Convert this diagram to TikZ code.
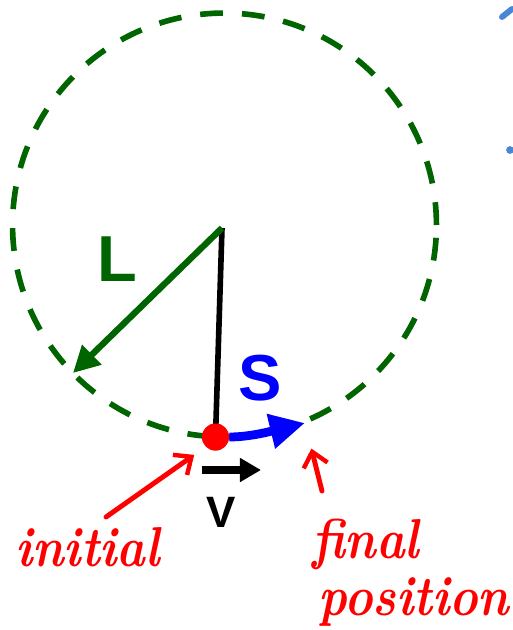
\documentclass[tikz,border=0pt]{standalone}
\usepackage{fontspec}
\setsansfont{Liberation Sans}
\usetikzlibrary{arrows.meta}
\definecolor{leaf}{HTML}{006400}
\definecolor{ink}{HTML}{0000FF}
\definecolor{pen}{HTML}{FF0000}
\definecolor{sky}{HTML}{4A86D6}
\tikzset{
  biglabel/.style={font=\sffamily\bfseries\fontsize{37}{37}\selectfont,inner sep=0pt},
  scrawl/.style={pen,font=\bfseries\itshape\fontsize{32}{32}\selectfont,inner sep=0pt,xscale=0.86,transform shape},
  scrawlarrow/.style={pen,line width=2.8pt,line cap=round,-{Straight Barb[length=8pt,width=14pt,line width=2.5pt]}}
}
\begin{document}
\begin{tikzpicture}[x=0.02cm,y=-0.02cm]
\useasboundingbox (0,0) rectangle (512,630);
% orbit of the pendulum bob
\draw[leaf,line width=3.2pt,dash pattern=on 13pt off 10.8pt] (224.5,225) circle (4.24cm);
\coordinate (pivot) at (222,228);
\coordinate (Lend) at (73,373);
\coordinate (Send) at (305,423);
\coordinate (vstart) at (202,470);
\coordinate (vend) at (261,470);
\node[circle,fill=pen,minimum size=0.54cm,inner sep=0pt] (bob) at (215.5,437) {};
% string and swing
\draw[line width=3.2pt] (pivot) -- (bob.center);
\draw[leaf,line width=3.6pt,-{Triangle[length=15pt,width=15pt]}] (pivot) -- (Lend);
\draw[ink,line width=5pt,-{Triangle[length=20pt,width=19pt]}] (bob.east) .. controls (250,437) and (272,431) .. (Send);
\node[circle,fill=pen,minimum size=0.54cm,inner sep=0pt] at (bob) {};
\draw[line width=4.2pt,-{Triangle[length=12pt,width=13pt]}] (vstart) -- (vend);
% labels
\node[biglabel,leaf] (Llabel) at (117,259) {L};
\node[biglabel,ink] (Slabel) at (260,378) {S};
\node[font=\sffamily\bfseries\fontsize{25}{25}\selectfont,inner sep=0pt] (Vlabel) at (221,512) {V};
% red notes
\node[scrawl,anchor=base west] (initial) at (15,566) {initial};
\node[scrawl,anchor=base west] (final) at (312,558) {final};
\node[scrawl,anchor=base west] (position) at (318,615) {position};
\coordinate (itail) at (106,517);
\coordinate (ftail) at (322,491);
\draw[scrawlarrow,shorten >=8pt] (itail) -- (bob.south west);
\draw[scrawlarrow,shorten >=15pt] (ftail) -- (Send);
% bits cut off at the edge
\draw[sky,line width=3.4pt,line cap=round] (502,17) -- (512,9);
\fill[sky] (510,150) circle (2.2pt);
\end{tikzpicture}
\end{document}
